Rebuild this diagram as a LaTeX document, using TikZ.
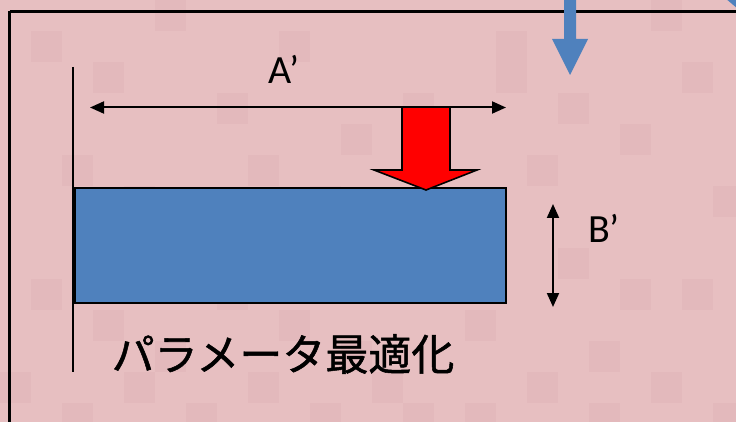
\documentclass[tikz,border=0pt]{standalone}
\usepackage{fontspec}
\setmainfont{Carlito}
\newfontfamily\jpfont{Noto Sans CJK JP}[AutoFakeBold=1.2]
\usetikzlibrary{arrows.meta}
\definecolor{bgpink}{RGB}{231,191,193}
\definecolor{bgpinkb}{RGB}{227,185,188}
\definecolor{boxblue}{RGB}{79,129,189}
\tikzset{
  dim/.style={line width=2pt,{Triangle[length=14pt,width=12pt]}-{Triangle[length=14pt,width=12pt]}},
  lbl/.style={font=\fontsize{40}{44}\selectfont,inner sep=0pt},
}
\begin{document}
\begin{tikzpicture}[x=1pt,y=-1pt]
\useasboundingbox (0,0) rectangle (736,422);
\fill[bgpink] (0,0) rectangle (736,422);
% light mosaic texture
\foreach \i/\j in {1/1,3/2,5/0,7/3,9/1,11/4,2/5,4/6,6/7,8/5,10/6,12/8,1/9,3/10,5/11,7/9,9/10,11/11,0/12,2/13,4/12,6/13,8/12,10/13,12/12,13/3,14/7,15/10,16/2,17/5,18/8,19/11,20/4,21/0,22/9,23/6,13/13,15/13,17/12,19/13,21/12,23/13,16/1,18/3,20/9,22/2}{
  \fill[bgpinkb] (\i*31,\j*31) rectangle ++(31,31);
}
% frame
\draw[line width=2.2pt] (9.5,11.5) -- (740,11.5);
\draw[line width=2.2pt] (9.5,11.5) -- (9.5,430);
% blue down arrow at top
\fill[boxblue] (564,-2) -- (576,-2) -- (576,39) -- (588,39) -- (570,75) -- (552,39) -- (564,39) -- cycle;
% partial blue shape top right
\fill[boxblue] (725,-2) -- (738,-2) -- (738,9) -- cycle;
% vertical wall line
\coordinate (wt) at (73,67);
\coordinate (wb) at (73,372);
\draw[line width=2.5pt] (wt) -- (wb);
% blue bar
\node[draw=black,line width=1.8pt,fill=boxblue,minimum width=431pt,minimum height=115pt,inner sep=0pt,anchor=north west] (bar) at (74,187) {};
% A' dimension
\coordinate (al) at (90,107.5);
\coordinate (ar) at (506,107.5);
\draw[dim] (al) -- (ar);
\node[lbl] (A) at (284,69) {A’};
% red arrow
\draw[line width=1.6pt,fill=red,line join=miter] (402,107) -- (450,107) -- (450,170) -- (477,170) -- (426,190) -- (374,170) -- (402,170) -- cycle;
% B' dimension
\coordinate (bt) at (553,204);
\coordinate (bb) at (553,307);
\draw[dim] (bt) -- (bb);
\node[lbl] (B) at (604,228) {B’};
% caption
\node[inner sep=0pt,font=\jpfont\bfseries\fontsize{43}{48}\selectfont] (cap) at (283,354) {パラメータ最適化};
\end{tikzpicture}
\end{document}
